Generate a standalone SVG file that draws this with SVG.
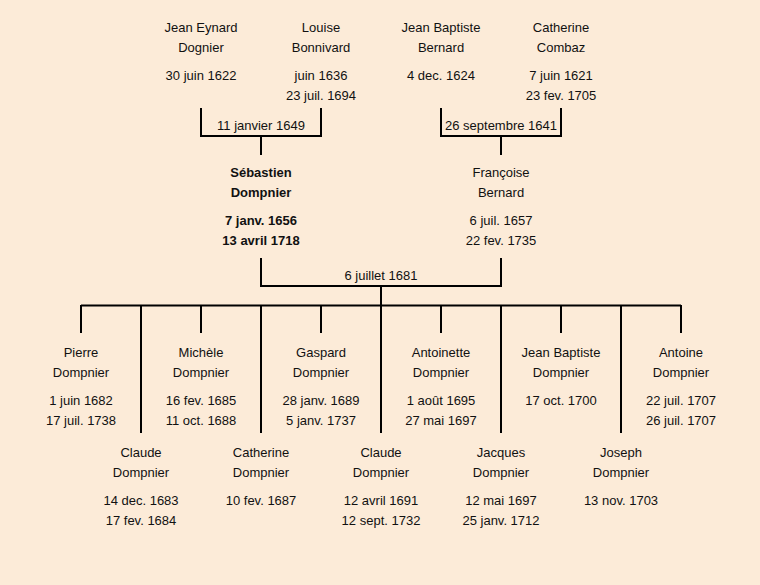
<svg xmlns="http://www.w3.org/2000/svg" width="760" height="585" viewBox="0 0 760 585">
<style>
text{font-family:"Liberation Sans","DejaVu Sans",sans-serif;font-size:13px;fill:#111;text-anchor:middle}
.b{font-weight:bold}
.l{stroke:#000;stroke-width:2;fill:none}
</style>
<rect width="760" height="585" fill="#FCEBD8"/>
<g id="connectors">
<path class="l" d="M201,108V136H321V108M261,136V155"/>
<path class="l" d="M441,108V136H561V108M501,136V155"/>
<path class="l" d="M261,258V286H501V258M381,286V305"/>
<path class="l" d="M81,305.5H681"/>
<path class="l" d="M81,305V333M201,305V333M321,305V333M441,305V333M561,305V333M681,305V333"/>
<path class="l" d="M141,305V433M261,305V433M381,305V433M501,305V433M621,305V433"/>
<text x="261" y="130">11 janvier 1649</text>
<text x="501" y="130">26 septembre 1641</text>
<text x="381" y="280">6 juillet 1681</text>
</g>
<g id="jean-eynard"><text x="201" y="32">Jean Eynard</text><text x="201" y="52">Dognier</text><text x="201" y="80">30 juin 1622</text></g>
<g id="louise"><text x="321" y="32">Louise</text><text x="321" y="52">Bonnivard</text><text x="321" y="80">juin 1636</text><text x="321" y="100">23 juil. 1694</text></g>
<g id="jean-baptiste-bernard"><text x="441" y="32">Jean Baptiste</text><text x="441" y="52">Bernard</text><text x="441" y="80">4 dec. 1624</text></g>
<g id="catherine-combaz"><text x="561" y="32">Catherine</text><text x="561" y="52">Combaz</text><text x="561" y="80">7 juin 1621</text><text x="561" y="100">23 fev. 1705</text></g>
<g id="sebastien" class="b"><text class="b" x="261" y="177">Sébastien</text><text class="b" x="261" y="197">Dompnier</text><text class="b" x="261" y="225">7 janv. 1656</text><text class="b" x="261" y="245">13 avril 1718</text></g>
<g id="francoise"><text x="501" y="177">Françoise</text><text x="501" y="197">Bernard</text><text x="501" y="225">6 juil. 1657</text><text x="501" y="245">22 fev. 1735</text></g>
<g id="pierre"><text x="81" y="357">Pierre</text><text x="81" y="377">Dompnier</text><text x="81" y="405">1 juin 1682</text><text x="81" y="425">17 juil. 1738</text></g>
<g id="claude1"><text x="141" y="457">Claude</text><text x="141" y="477">Dompnier</text><text x="141" y="505">14 dec. 1683</text><text x="141" y="525">17 fev. 1684</text></g>
<g id="michele"><text x="201" y="357">Michèle</text><text x="201" y="377">Dompnier</text><text x="201" y="405">16 fev. 1685</text><text x="201" y="425">11 oct. 1688</text></g>
<g id="catherine"><text x="261" y="457">Catherine</text><text x="261" y="477">Dompnier</text><text x="261" y="505">10 fev. 1687</text></g>
<g id="gaspard"><text x="321" y="357">Gaspard</text><text x="321" y="377">Dompnier</text><text x="321" y="405">28 janv. 1689</text><text x="321" y="425">5 janv. 1737</text></g>
<g id="claude2"><text x="381" y="457">Claude</text><text x="381" y="477">Dompnier</text><text x="381" y="505">12 avril 1691</text><text x="381" y="525">12 sept. 1732</text></g>
<g id="antoinette"><text x="441" y="357">Antoinette</text><text x="441" y="377">Dompnier</text><text x="441" y="405">1 août 1695</text><text x="441" y="425">27 mai 1697</text></g>
<g id="jacques"><text x="501" y="457">Jacques</text><text x="501" y="477">Dompnier</text><text x="501" y="505">12 mai 1697</text><text x="501" y="525">25 janv. 1712</text></g>
<g id="jean-baptiste"><text x="561" y="357">Jean Baptiste</text><text x="561" y="377">Dompnier</text><text x="561" y="405">17 oct. 1700</text></g>
<g id="joseph"><text x="621" y="457">Joseph</text><text x="621" y="477">Dompnier</text><text x="621" y="505">13 nov. 1703</text></g>
<g id="antoine"><text x="681" y="357">Antoine</text><text x="681" y="377">Dompnier</text><text x="681" y="405">22 juil. 1707</text><text x="681" y="425">26 juil. 1707</text></g>
</svg>
